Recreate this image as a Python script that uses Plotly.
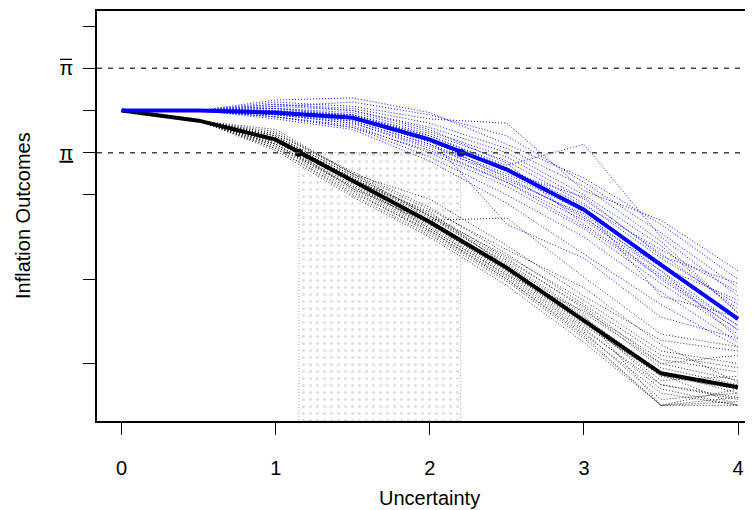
import plotly.graph_objects as go

# ---- data ----
x_grid = [0, 0.5, 1, 1.5, 2, 2.5, 3, 3.5, 4]

black_main = [6.00, 5.76, 5.31, 4.33, 3.36, 2.27, 1.03, -0.23, -0.56]
blue_main = [6.00, 6.00, 5.95, 5.83, 5.31, 4.60, 3.65, 2.34, 1.06]

black_start = [6.00, 5.76]
blue_start = [6.00, 6.00]

# simulated paths, values at x = 1, 1.5, 2, 2.5, 3, 3.5, 4
black_paths = [
    [5.45, 4.55, 3.70, 2.60, 1.40, 0.20, -0.10],
    [5.20, 4.20, 3.20, 2.10, 0.80, -0.50, -0.80],
    [5.35, 4.40, 3.45, 2.40, 1.20, 0.00, -0.40],
    [5.10, 4.00, 3.05, 1.95, 0.60, -0.99, -0.99],
    [5.50, 4.50, 3.90, 2.80, 1.60, 0.55, 0.30],
    [5.25, 4.30, 3.30, 2.20, 0.95, -0.30, -0.60],
    [5.40, 4.45, 3.55, 2.50, 1.30, -0.10, -0.50],
    [5.15, 4.10, 3.10, 2.00, 0.70, -0.70, -0.99],
    [5.30, 4.35, 3.40, 3.45, 2.05, 0.70, 0.40],
    [5.05, 3.95, 3.00, 1.85, 0.50, -0.99, -0.90],
    [5.40, 4.35, 3.60, 2.30, 1.10, -0.20, -0.70],
    [5.20, 4.25, 3.25, 2.15, 0.85, -0.60, -0.99],
    [5.55, 4.50, 3.50, 2.55, 1.50, 0.30, 0.00],
    [5.30, 4.15, 3.35, 2.25, 1.00, -0.40, -0.30],
    [5.10, 4.05, 3.15, 2.05, 0.75, -0.85, -0.70],
    [5.35, 4.40, 3.50, 2.35, 1.15, -0.99, -0.60],
    [5.25, 4.30, 3.20, 2.10, 1.25, 0.10, -0.20],
    [5.45, 4.50, 3.65, 2.70, 1.80, 0.45, -0.45],
    [5.15, 4.20, 3.30, 2.20, 0.90, -0.25, -0.99],
    [5.30, 4.30, 3.40, 2.30, 1.05, -0.50, -0.85],
    [5.40, 4.45, 3.50, 2.45, 1.35, 0.00, 0.20],
    [5.20, 4.15, 3.15, 2.00, 0.65, -0.99, -0.80],
]

blue_paths = [
    [6.10, 6.20, 5.90, 5.40, 4.30, 3.10, 1.80],
    [5.90, 5.70, 5.10, 4.30, 3.40, 2.20, 0.90],
    [6.05, 5.95, 5.50, 4.90, 3.90, 2.60, 1.30],
    [5.85, 5.60, 4.90, 4.00, 3.00, 1.70, 0.50],
    [6.20, 6.10, 5.80, 5.70, 4.10, 3.40, 2.20],
    [5.95, 5.80, 5.30, 4.40, 3.50, 2.00, 0.80],
    [6.00, 5.90, 5.40, 4.70, 5.20, 3.00, 1.60],
    [5.80, 5.55, 4.80, 3.80, 2.60, 1.40, 0.40],
    [6.15, 6.00, 5.60, 5.00, 4.00, 2.80, 1.20],
    [5.90, 5.75, 5.20, 4.50, 3.60, 2.40, 1.00],
    [6.05, 5.85, 5.35, 3.30, 2.50, 1.10, 0.60],
    [5.95, 5.90, 5.45, 4.80, 3.80, 2.50, 1.40],
    [6.25, 6.30, 5.95, 5.20, 4.40, 3.30, 2.00],
    [5.85, 5.65, 5.00, 4.20, 3.20, 1.90, 0.70],
    [6.00, 5.80, 5.25, 4.60, 3.70, 1.60, 1.10],
    [6.10, 6.00, 5.55, 4.75, 3.30, 2.10, 0.90],
    [5.90, 5.70, 5.15, 4.45, 3.45, 2.30, 1.50],
    [6.00, 5.85, 5.40, 4.65, 3.75, 2.70, 1.70],
    [6.15, 6.05, 5.70, 5.10, 4.20, 2.90, 1.20],
    [5.95, 5.75, 5.20, 4.35, 3.55, 2.20, 0.60],
    [6.05, 5.90, 5.35, 4.55, 3.95, 2.55, 1.90],
    [5.85, 5.60, 5.05, 4.30, 3.25, 2.05, 0.80],
]

pi_low = 5
pi_high = 7
cross_black = 1.15
cross_blue = 2.2

y_ticks = [0, 2, 4, 5, 6, 7, 8]
y_ticktext = ["", "", "",
              '<span style="text-decoration:underline">\u03c0</span>', "",
              "\u03c0", ""]
x_ticks = [0, 1, 2, 3, 4]

x_range = [-0.16, 4.097]
y_range = [-1.36, 8.36]

# ---- figure ----
fig = go.Figure()

# shaded region between crossing points
fig.add_trace(go.Scatter(
    x=[cross_black, cross_blue, cross_blue, cross_black, cross_black],
    y=[y_range[0], y_range[0], pi_low, pi_low, y_range[0]],
    mode="lines", fill="toself",
    fillcolor="rgba(0,0,0,0)",
    fillpattern=dict(shape=".", fgcolor="#bdbdbd", bgcolor="rgba(255,255,255,0)",
                     size=7, solidity=0.15),
    line=dict(color="#a0a0a0", width=1, dash="1px,2px"),
    hoverinfo="skip", showlegend=False,
))

for p in black_paths:
    fig.add_trace(go.Scatter(
        x=x_grid, y=black_start + p, mode="lines",
        line=dict(color="rgba(0,0,0,0.8)", width=1, dash="1px,2px"),
        hoverinfo="skip", showlegend=False,
    ))

for p in blue_paths:
    fig.add_trace(go.Scatter(
        x=x_grid, y=blue_start + p, mode="lines",
        line=dict(color="rgba(0,0,255,0.95)", width=1, dash="1px,2px"),
        hoverinfo="skip", showlegend=False,
    ))

fig.add_trace(go.Scatter(x=x_grid, y=black_main, mode="lines",
                         line=dict(color="black", width=4),
                         hoverinfo="skip", showlegend=False))
fig.add_trace(go.Scatter(x=x_grid, y=blue_main, mode="lines",
                         line=dict(color="#0000ff", width=4),
                         hoverinfo="skip", showlegend=False))

fig.add_trace(go.Scatter(x=[cross_black], y=[pi_low], mode="markers",
                         marker=dict(color="black", size=8),
                         hoverinfo="skip", showlegend=False))
fig.add_trace(go.Scatter(x=[cross_blue], y=[pi_low], mode="markers",
                         marker=dict(color="#0000ff", size=8),
                         hoverinfo="skip", showlegend=False))

for yv in [pi_low, pi_high]:
    fig.add_shape(type="line", xref="paper", x0=0, x1=1, yref="y", y0=yv, y1=yv,
                  line=dict(color="#444444", width=1.5, dash="5px,6px"))

# overline bar of the upper pi tick label
fig.add_shape(type="line", xref="paper", xsizemode="pixel", xanchor=0, x0=-37, x1=-25,
              yref="y", ysizemode="pixel", yanchor=pi_high, y0=9, y1=9,
              line=dict(color="black", width=1.3))

font = dict(family="Liberation Sans, Arial, sans-serif", size=20, color="black")

# page body has an 8px margin, so the figure is 8px smaller and margins shifted
fig.update_layout(
    width=745, height=502,
    margin=dict(l=89, r=0, t=3, b=89),
    paper_bgcolor="white", plot_bgcolor="white",
    font=font,
    xaxis=dict(range=x_range, tickvals=x_ticks, ticks="outside", ticklen=12,
               tickwidth=1.2, tickcolor="black", showline=True, linecolor="black",
               linewidth=1.5, mirror=True, showgrid=False, zeroline=False,
               ticklabelstandoff=16, tickfont=font),
    yaxis=dict(range=y_range, tickvals=y_ticks, ticktext=y_ticktext, ticks="outside",
               ticklen=12, tickwidth=1.2, tickcolor="black", showline=True,
               linecolor="black", linewidth=1.5, mirror=False, showgrid=False,
               zeroline=False, ticklabelstandoff=6, tickfont=font),
)

fig.add_annotation(text="Uncertainty", xref="paper", yref="paper", x=(430 - 97) / 656,
                   y=0, yshift=-77, showarrow=False, font=font, xanchor="center",
                   yanchor="middle")
fig.add_annotation(text="Inflation Outcomes", xref="paper", yref="paper", x=0, xshift=-74,
                   y=0.5, showarrow=False, font=font, textangle=-90,
                   xanchor="center", yanchor="middle")

fig.write_html("out.html")
